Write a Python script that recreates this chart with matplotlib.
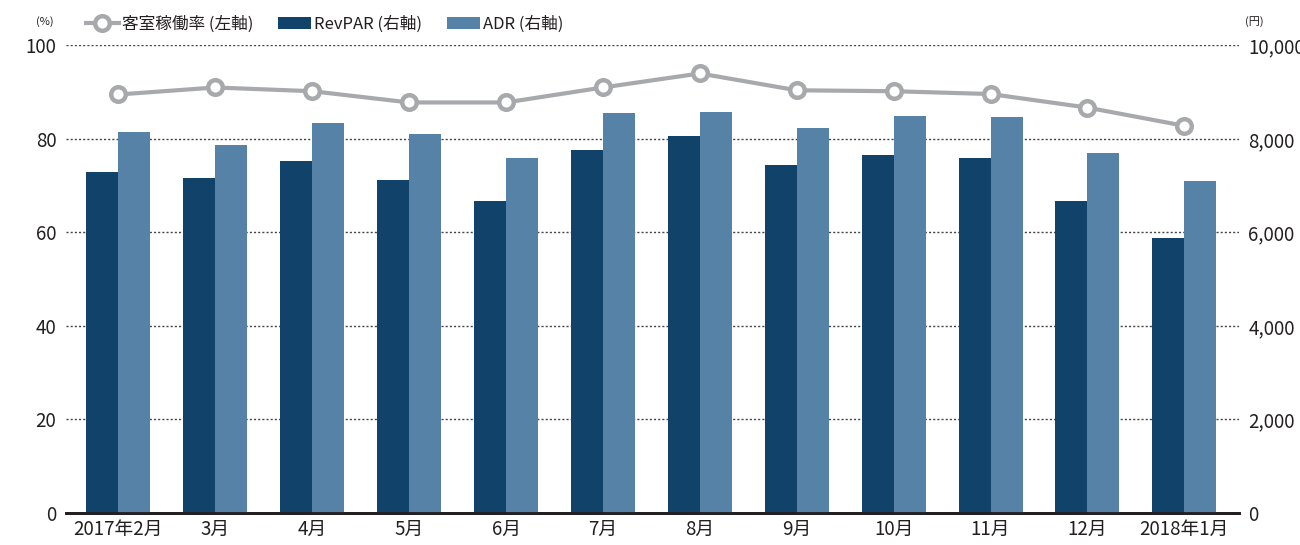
import numpy as np
import matplotlib.pyplot as plt
from matplotlib.ticker import FuncFormatter

plt.rcParams['font.family'] = ['Noto Sans CJK JP', 'DejaVu Sans']

# データ
months = ["2017年2月", "3月", "4月", "5月", "6月", "7月", "8月", "9月", "10月", "11月", "12月", "2018年1月"]
occupancy = [89.5, 91.0, 90.2, 87.8, 87.8, 91.0, 94.0, 90.4, 90.2, 89.6, 86.7, 82.8]
revpar = [7290, 7160, 7530, 7115, 6670, 7756, 8056, 7440, 7650, 7590, 6670, 5880]
adr = [8150, 7865, 8340, 8100, 7590, 8555, 8568, 8230, 8485, 8462, 7695, 7095]

c_line = "#a7a9ac"
c_dark = "#10426a"
c_light = "#5782a8"
c_text = "#231f20"

fig = plt.figure(figsize=(13, 5.45), dpi=100)
ax = fig.add_axes([0.0508, 0.0587, 0.902, 0.858])
ax2 = ax.twinx()

x = np.arange(len(months))
w = 0.33
b1 = ax2.bar(x - w / 2, revpar, w, color=c_dark, label="RevPAR (右軸)", zorder=2)
b2 = ax2.bar(x + w / 2, adr, w, color=c_light, label="ADR (右軸)", zorder=2)

# 客室稼働率は左軸の値だが、棒の前面に描くため ax2 のスケールに換算して描画
l1, = ax2.plot(x, np.array(occupancy) * 100, color=c_line, lw=3, marker="o", ms=10.5,
               mfc="white", mec=c_line, mew=3.2, label="客室稼働率 (左軸)", zorder=4)

ax.set_ylim(0, 100)
ax2.set_ylim(0, 10000)
ax.set_xlim(-0.54, 11.56)
ax.set_yticks(range(0, 101, 20))
ax2.set_yticks(range(0, 10001, 2000))
ax2.yaxis.set_major_formatter(FuncFormatter(lambda v, p: f"{int(v):,}"))

for a in (ax, ax2):
    for s in ("left", "right", "top"):
        a.spines[s].set_visible(False)
    a.spines["bottom"].set_color(c_text)
    a.spines["bottom"].set_linewidth(2)
    a.tick_params(axis="y", length=0, labelsize=13.5, colors=c_text, pad=7)

ax.set_xticks(x)
ax.set_xticklabels(months)
ax.tick_params(axis="x", length=0, labelsize=13.5, colors=c_text, pad=4)

ax2.grid(axis="y", linestyle=(0, (1.5, 1.5)), color="#444444", linewidth=1, zorder=0)
ax2.set_axisbelow(True)

fig.text(0.028, 0.955, "(%)", fontsize=8, color=c_text)
fig.text(0.958, 0.955, "(円)", fontsize=8, color=c_text)

fig.legend(handles=[l1, b1, b2], loc="upper left", bbox_to_anchor=(0.066, 0.972), ncol=3,
           frameon=False, fontsize=12, handlelength=2.0, columnspacing=1.5,
           handletextpad=0.15, borderpad=0, borderaxespad=0, labelcolor=c_text)

plt.savefig("out.png", dpi=100)
